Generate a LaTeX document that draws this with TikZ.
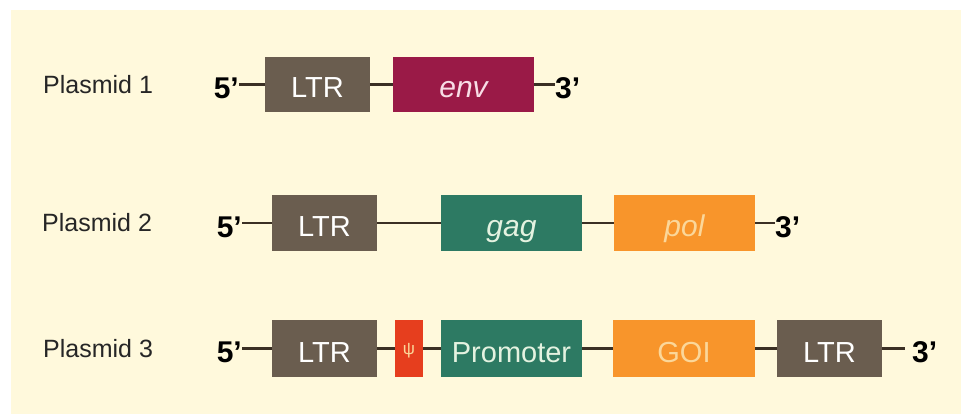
\documentclass[tikz,border=0pt]{standalone}
\usepackage{fontspec}
\setmainfont{Liberation Sans}
\definecolor{cream}{HTML}{FFF9DC}
\definecolor{ltrbrown}{HTML}{6A5D4F}
\definecolor{envred}{HTML}{9A1A47}
\definecolor{genegreen}{HTML}{2D7A63}
\definecolor{geneorange}{HTML}{F8952B}
\definecolor{psired}{HTML}{E63E1E}
\definecolor{dnaline}{HTML}{3B3024}
\definecolor{paleorange}{HTML}{FBD79A}
\definecolor{palegreen}{HTML}{E4F2E0}
\definecolor{palepink}{HTML}{F8DDE6}
\tikzset{
  gene/.style={rectangle, draw=none, inner sep=0pt, minimum height=55pt,
    text height=27pt, text depth=0pt,
    font=\fontsize{29}{34}\selectfont, text=white},
  ltrbox/.style={gene, fill=ltrbrown, minimum width=105pt, text=white},
  endlabel/.style={inner sep=0pt, text height=28pt, text depth=0pt,
    font=\fontsize{30}{36}\selectfont\bfseries, text=black},
  plabel/.style={inner sep=0pt, anchor=west, font=\fontsize{25}{30}\selectfont, text=black!85},
  dna/.style={draw=dnaline, line width=2.5pt}
}
\begin{document}
\begin{tikzpicture}[x=1pt,y=-1pt]
\fill[white] (0,0) rectangle (961,414);
\fill[cream] (11,10) rectangle (961,414);
\useasboundingbox (0,0) rectangle (961,414);

% Plasmid 1
\node[plabel] (lab1) at (43,84.5) {Plasmid 1};
\node[endlabel, anchor=east] (f1) at (239,84.5) {5’};
\node[ltrbox] (ltr1) at (317.5,84.5) {LTR};
\node[gene, fill=envred, minimum width=141pt, text=palepink, font=\fontsize{30}{34}\selectfont\itshape] (env) at (463.5,84.5) {env};
\node[endlabel, anchor=west] (t1) at (555,84.5) {3’};
\draw[dna] (f1.east) -- (ltr1.west);
\draw[dna] (ltr1.east) -- (env.west);
\draw[dna] (env.east) -- (t1.west);

% Plasmid 2
\node[plabel] (lab2) at (42,223) {Plasmid 2};
\node[endlabel, anchor=east] (f2) at (242,223) {5’};
\node[ltrbox] (ltr2) at (324.5,223) {LTR};
\node[gene, fill=genegreen, minimum width=141pt, text=palegreen, font=\fontsize{30}{34}\selectfont\itshape] (gag) at (511.5,223) {gag};
\node[gene, fill=geneorange, minimum width=141pt, text=paleorange, font=\fontsize{30}{34}\selectfont\itshape] (pol) at (684.5,223) {pol};
\node[endlabel, anchor=west] (t2) at (775,223) {3’};
\draw[dna] (f2.east) -- (ltr2.west);
\draw[dna] (ltr2.east) -- (gag.west);
\draw[dna] (gag.east) -- (pol.west);
\draw[dna] (pol.east) -- (t2.west);

% Plasmid 3
\node[plabel] (lab3) at (43,348.5) {Plasmid 3};
\node[endlabel, anchor=east] (f3) at (242,348.5) {5’};
\node[ltrbox, minimum height=57pt] (ltr3a) at (324.5,348.5) {LTR};
\node[gene, fill=psired, minimum width=28pt, minimum height=57pt, text=paleorange, text height=12pt, font=\fontsize{17}{20}\selectfont] (psi) at (409,348.5) {ψ};
\node[gene, fill=genegreen, minimum width=141pt, minimum height=57pt, text=palegreen] (prom) at (511.5,348.5) {Promoter};
\node[gene, fill=geneorange, minimum width=142pt, minimum height=57pt, text=paleorange] (goi) at (684,348.5) {GOI};
\node[ltrbox, minimum height=57pt] (ltr3b) at (829.5,348.5) {LTR};
\node[endlabel, anchor=west] (t3) at (912,348.5) {3’};
\draw[dna] (f3.east) -- (ltr3a.west);
\draw[dna] (ltr3a.east) -- (psi.west);
\draw[dna] (psi.east) -- (prom.west);
\draw[dna] (prom.east) -- (goi.west);
\draw[dna] (goi.east) -- (ltr3b.west);
\draw[dna] (ltr3b.east) -- ([xshift=-7pt]t3.west);
\end{tikzpicture}
\end{document}
